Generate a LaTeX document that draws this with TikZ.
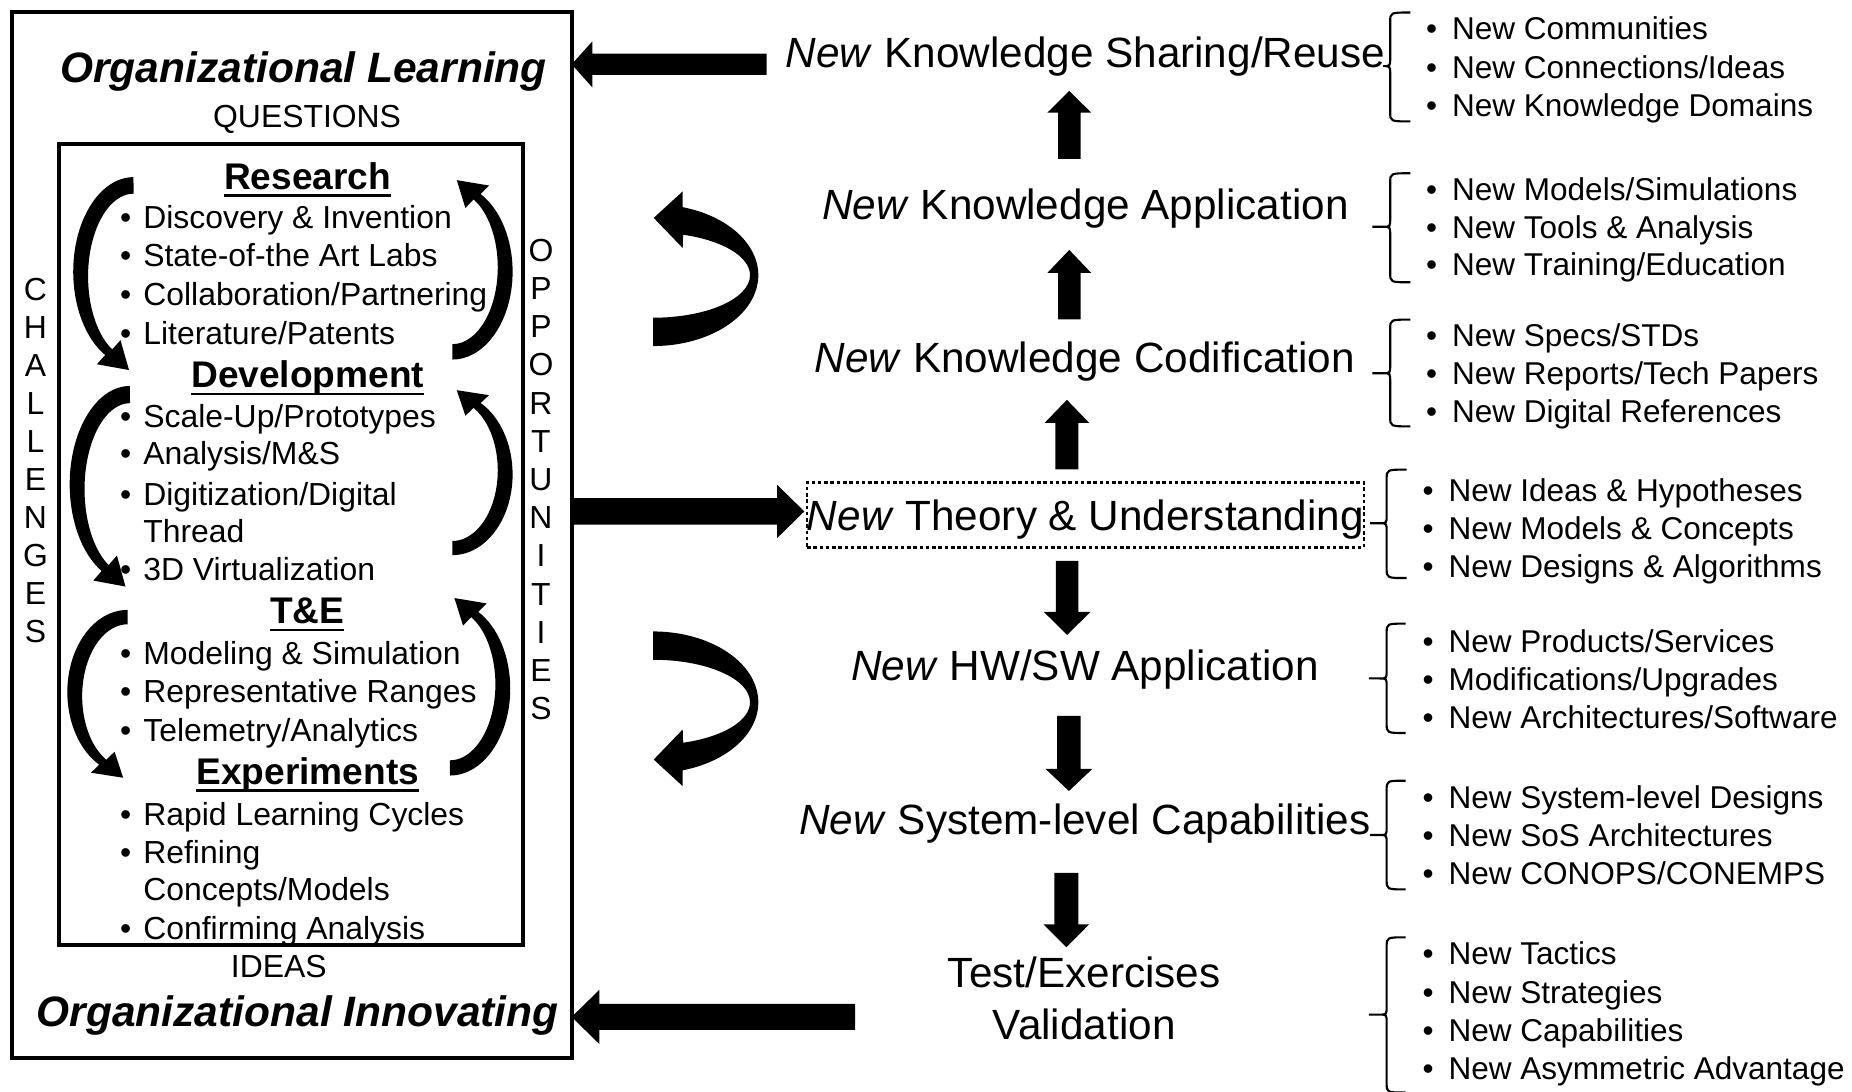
\documentclass[tikz,border=0pt]{standalone}
\usepackage{fontspec}
\setmainfont{Liberation Sans}
\usetikzlibrary{calc}
\newcommand\ulh[1]{\setbox0\hbox{#1}\rlap{\rule[-0.2em]{\wd0}{0.07em}}\box0}
\newcommand\lb{\llap{•\hspace{5.1pt}}}
\newcommand\rb{\llap{•\hspace{6.3pt}}}
% block arrow: #1 start, #2 tip, #3 shaft half width, #4 head half width, #5 head length
\newcommand\blockarrow[5]{\fill ($(#1)!#3!90:(#2)$) -- ($(#2)!#5!(#1)!#3!-90:(#1)$) -- ($(#2)!#5!(#1)!#4!-90:(#1)$) -- (#2) -- ($(#2)!#5!(#1)!#4!90:(#1)$) -- ($(#2)!#5!(#1)!#3!90:(#1)$) -- ($(#1)!#3!-90:(#2)$) -- cycle;}
% small curved arrow: #1 cx, #2 cy, #3 yscale, #4 rotation
\newcommand\looparrow[4]{\begin{scope}[shift={(#1,#2)}, rotate=#4, yscale=#3]
\fill (0,-80) arc[start angle=270, end angle=118, x radius=51, y radius=80] -- (-31,78.4) -- (-3.75,83.3) -- (-11,58.0) -- (-18,65.8) arc[start angle=118, end angle=270, x radius=38.5, y radius=70] -- cycle;
\end{scope}}
% brace: #1 top, #2 tip, #3 bottom, #4 vertical x, #5 right x, #6 tick x
\newcommand\listbrace[6]{\draw[brc] (#5,#1) .. controls (#4,#1) .. (#4,{#1+8}) -- (#4,{#2-7}) .. controls (#4,#2) .. ({#4-6},#2) -- (#6,#2) ({#4-6},#2) .. controls (#4,#2) .. (#4,{#2+7}) -- (#4,{#3-8}) .. controls (#4,#3) .. (#5,#3);}
\begin{document}
\begin{tikzpicture}[x={(0.5pt,0)}, y={(0,-0.5pt)},
  midlbl/.style={inner sep=0, font=\fontsize{17.9pt}{21pt}\selectfont, text height=12.8pt, text depth=0pt},
  orglbl/.style={inner sep=0, font=\fontsize{18pt}{21pt}\selectfont\bfseries\itshape, text height=12.9pt, text depth=0pt},
  hdr/.style={inner sep=0, font=\fontsize{15.7pt}{18pt}\selectfont\bfseries, text height=11.24pt, text depth=0pt},
  item/.style={inner sep=0, anchor=west, font=\fontsize{13.5pt}{16pt}\selectfont, text height=9.67pt, text depth=0pt},
  ritem/.style={inner sep=0, anchor=west, font=\fontsize{13.35pt}{16pt}\selectfont, text height=9.56pt, text depth=0pt},
  caps/.style={inner sep=0, font=\fontsize{13.5pt}{16pt}\selectfont, text height=9.67pt, text depth=0pt},
  vert/.style={inner sep=0, align=center},
  brc/.style={line width=0.9pt},
  boxst/.style={draw, outer sep=0, inner sep=0}]
\useasboundingbox (0,0) rectangle (1568,924);
\fill[white] (0,0) rectangle (1568,924);

% boxes
\node[boxst, line width=1.7pt, minimum width=237pt, minimum height=443pt] (outerbox) at (247,453) {};
\node[boxst, line width=1.5pt, minimum width=196.5pt, minimum height=339pt] (innerbox) at (246.5,461) {};

% left texts
\node[orglbl] (olearn) at (257,57) {Organizational Learning};
\node[caps] (quest) at (260,98) {QUESTIONS};
\node[hdr] (research) at (260.5,149) {\ulh{Research}};
\node[item] (r1) at (121,184) {\lb Discovery \& Invention};
\node[item] (r2) at (121,216) {\lb State-of-the Art Labs};
\node[item] (r3) at (121,249) {\lb Collaboration/Partnering};
\node[item] (r4) at (121,282) {\lb Literature/Patents};
\node[hdr] (develop) at (260.5,317) {\ulh{Development}};
\node[item] (d1) at (121,352) {\lb Scale-Up/Prototypes};
\node[item] (d2) at (121,384) {\lb Analysis/M\&S};
\node[item] (d3) at (121,418) {\lb Digitization/Digital};
\node[item] (d4) at (121,450) {Thread};
\node[item] (d5) at (121,482) {\lb 3D Virtualization};
\node[hdr] (tande) at (260,517) {\ulh{T\&E}};
\node[item] (t1) at (121,553) {\lb Modeling \& Simulation};
\node[item] (t2) at (121,585) {\lb Representative Ranges};
\node[item] (t3) at (121,618) {\lb Telemetry/Analytics};
\node[hdr] (experim) at (260.5,653) {\ulh{Experiments}};
\node[item] (e1) at (121,689) {\lb Rapid Learning Cycles};
\node[item] (e2) at (121,721) {\lb Refining};
\node[item] (e3) at (121,753) {Concepts/Models};
\node[item] (e4) at (121,786) {\lb Confirming Analysis};
\node[caps] (ideas) at (236,818) {IDEAS};
\node[orglbl] (oinnov) at (252,856) {Organizational Innovating};
\node[vert, font=\fontsize{13.5pt}{16.1pt}\selectfont] (chal) at (30,390) {C\\H\\A\\L\\L\\E\\N\\G\\E\\S};
\node[vert, font=\fontsize{13.5pt}{16.17pt}\selectfont] (opp) at (458,406) {O\\P\\P\\O\\R\\T\\U\\N\\I\\T\\I\\E\\S};

% small curved arrows in the inner box
\looparrow{113}{230}{1}{0}
\looparrow{110}{410}{1.04}{0}
\looparrow{108}{586}{0.87}{0}
\looparrow{383}{230}{0.93}{180}
\looparrow{383}{401.6}{0.855}{180}
\looparrow{381}{583}{0.92}{180}

% middle column
\node[midlbl] (share) at (919,44) {\textit{New} Knowledge Sharing/Reuse};
\node[midlbl] (kapp) at (919,173) {\textit{New} Knowledge Application};
\node[midlbl] (codif) at (918.5,303) {\textit{New} Knowledge Codification};
\node[midlbl, draw, dash pattern=on 1.5pt off 1.15pt, line width=1.2pt, minimum width=235pt, minimum height=27.5pt] (theory) at (919,436) {\textit{New} Theory \& Understanding};
\node[midlbl] (hwsw) at (918.5,563) {\textit{New} HW/SW Application};
\node[midlbl] (sysl) at (918.5,694) {\textit{New} System-level Capabilities};
\node[midlbl] (test) at (918,823) {Test/Exercises};
\node[midlbl] (valid) at (918,867) {Validation};

% big curved arrows
\fill (578,175.4) arc[start angle=-73.7, end angle=90, x radius=89, y radius=60] -- (553,269) arc[start angle=90, end angle=-72, x radius=82, y radius=36] -- (578,210) -- (553.5,184.5) -- (578,162) -- cycle;
\fill (578,652.2) arc[start angle=73.7, end angle=-90, x radius=89, y radius=60] -- (553,558.6) arc[start angle=-90, end angle=72, x radius=82, y radius=36] -- (578,617.6) -- (553.5,643.1) -- (578,665.6) -- cycle;

% block arrows
\coordinate (a1s) at (905.3,134.6); \coordinate (a1t) at (905.3,77);
\coordinate (a2s) at (905.3,270.5); \coordinate (a2t) at (905.3,211.6);
\coordinate (a3s) at (903.3,397.4); \coordinate (a3t) at (903.3,338.5);
\coordinate (d1s) at (903.5,474.8); \coordinate (d1t) at (903.5,537.6);
\coordinate (d2s) at (905,606);     \coordinate (d2t) at (905,669.7);
\coordinate (d3s) at (902.8,739);   \coordinate (d3t) at (902.8,802);
\coordinate (h1s) at (649,54.5);    \coordinate (h1t) at (outerbox.east |- h1s);
\coordinate (h2s) at (outerbox.east |- 0,433); \coordinate (h2t) at (681,433);
\coordinate (h3s) at (724,861);     \coordinate (h3t) at (outerbox.east |- h3s);
\blockarrow{a1s}{a1t}{4.75pt}{9.25pt}{9.15pt}
\blockarrow{a2s}{a2t}{4.75pt}{9.25pt}{9.7pt}
\blockarrow{a3s}{a3t}{4.9pt}{9.4pt}{9.75pt}
\blockarrow{d1s}{d1t}{4.75pt}{9.9pt}{9.8pt}
\blockarrow{d2s}{d2t}{5pt}{9.9pt}{9.35pt}
\blockarrow{d3s}{d3t}{5.1pt}{9.6pt}{9.65pt}
\blockarrow{h1s}{h1t}{4.5pt}{9.75pt}{8.75pt}
\blockarrow{h2s}{h2t}{5.6pt}{11.25pt}{11.5pt}
\blockarrow{h3s}{h3t}{5.5pt}{11.5pt}{11.75pt}

% braces
\listbrace{10.6}{56}{102.8}{1177}{1194}{1171}
\listbrace{146.7}{192}{239}{1177}{1194}{1162}
\listbrace{270.6}{316}{361}{1177}{1194}{1162}
\listbrace{397.6}{443}{489.4}{1174}{1191}{1160}
\listbrace{528}{574.4}{620.6}{1174}{1190}{1159}
\listbrace{661}{707}{753}{1174}{1190}{1160}
\listbrace{793.6}{859}{925}{1174}{1190}{1159}

% right lists
\node[ritem] (g1a) at (1229,24) {\rb New Communities};
\node[ritem] (g1b) at (1229,57) {\rb New Connections/Ideas};
\node[ritem] (g1c) at (1229,89) {\rb New Knowledge Domains};
\node[ritem] (g2a) at (1229,160) {\rb New Models/Simulations};
\node[ritem] (g2b) at (1229,192) {\rb New Tools \& Analysis};
\node[ritem] (g2c) at (1229,224) {\rb New Training/Education};
\node[ritem] (g3a) at (1229,284) {\rb New Specs/STDs};
\node[ritem] (g3b) at (1229,316) {\rb New Reports/Tech Papers};
\node[ritem] (g3c) at (1229,348) {\rb New Digital References};
\node[ritem] (g4a) at (1226,415) {\rb New Ideas \& Hypotheses};
\node[ritem] (g4b) at (1226,447) {\rb New Models \& Concepts};
\node[ritem] (g4c) at (1226,479) {\rb New Designs \& Algorithms};
\node[ritem] (g5a) at (1226,543) {\rb New Products/Services};
\node[ritem] (g5b) at (1226,575) {\rb Modifications/Upgrades};
\node[ritem] (g5c) at (1226,607) {\rb New Architectures/Software};
\node[ritem] (g6a) at (1226,675) {\rb New System-level Designs};
\node[ritem] (g6b) at (1226,707) {\rb New SoS Architectures};
\node[ritem] (g6c) at (1226,739) {\rb New CONOPS/CONEMPS};
\node[ritem] (g7a) at (1226,807) {\rb New Tactics};
\node[ritem] (g7b) at (1226,840) {\rb New Strategies};
\node[ritem] (g7c) at (1226,872) {\rb New Capabilities};
\node[ritem] (g7d) at (1226,904) {\rb New Asymmetric Advantage};
\end{tikzpicture}
\end{document}
